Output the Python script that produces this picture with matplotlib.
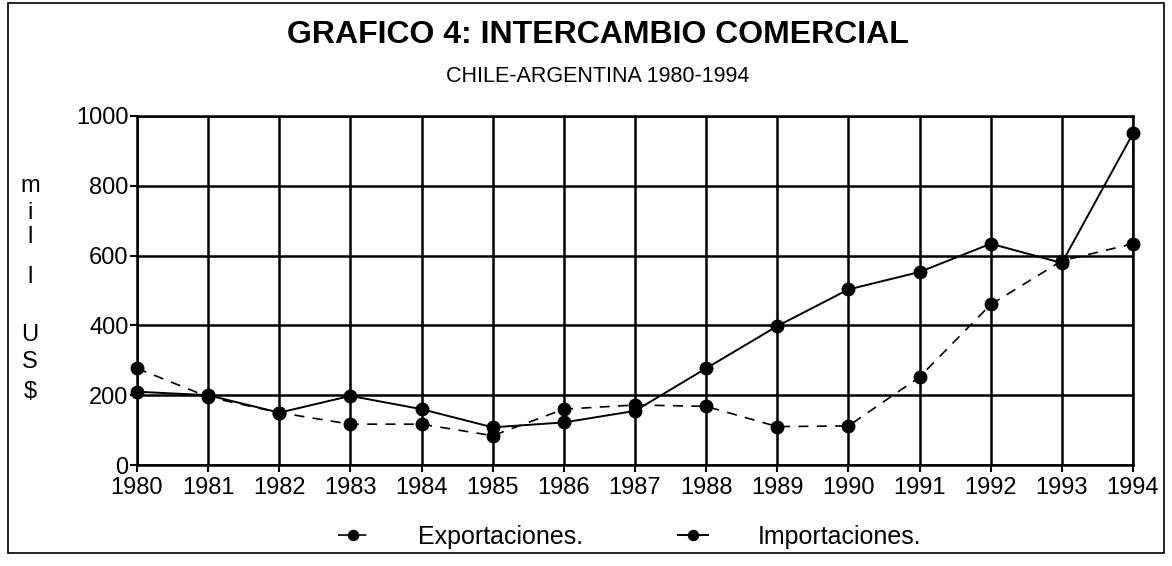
import matplotlib
matplotlib.use('Agg')
import matplotlib.pyplot as plt
from matplotlib.patches import Rectangle

years = [1980, 1981, 1982, 1983, 1984, 1985, 1986, 1987, 1988, 1989, 1990, 1991, 1992, 1993, 1994]
exportaciones = [277, 195, 150, 117, 117, 84, 160, 172, 168, 110, 112, 252, 460, 585, 634]
importaciones = [210, 200, 150, 198, 160, 108, 122, 155, 277, 398, 503, 553, 634, 579, 950]
y_ticks = [0, 200, 400, 600, 800, 1000]
ylabel_letters = ['m', 'i', 'l', 'l', 'U', 'S', '$']
ylabel_pos = [186, 213, 237, 277, 335, 362, 392]  # pixel rows of the stacked label

plt.rcParams['font.family'] = ['Liberation Sans', 'DejaVu Sans']

W, H = 1172, 566
fig = plt.figure(figsize=(W / 100, H / 100), dpi=100)
ax = fig.add_axes([137 / W, 1 - 465 / H, (1133 - 137) / W, (465 - 116) / H])

ax.plot(years, exportaciones, color='black', linestyle=(0, (6, 5)), linewidth=1.2,
        marker='o', markersize=9, label='Exportaciones.', clip_on=False, zorder=3)
ax.plot(years, importaciones, color='black', linestyle='-', linewidth=1.4,
        marker='o', markersize=9, label='Importaciones.', clip_on=False, zorder=3)

ax.set_xlim(1980, 1994)
ax.set_ylim(0, 1000)
ax.set_xticks(years)
ax.set_yticks(y_ticks)
ax.tick_params(axis='both', labelsize=17, length=5, width=1.5, color='black')
ax.tick_params(axis='x', pad=4)
ax.tick_params(axis='y', pad=1)
ax.grid(True, color='black', linewidth=1.8)
for s in ax.spines.values():
    s.set_linewidth(1.8)

# stacked vertical y-axis label
for ch, py in zip(ylabel_letters, ylabel_pos):
    fig.text(30 / W, 1 - py / H, ch, fontsize=17, ha='center', va='center')

fig.text(598 / W, 1 - 35 / H, 'GRAFICO 4: INTERCAMBIO COMERCIAL', fontsize=23,
         fontweight='bold', ha='center', va='center')
fig.text(598 / W, 1 - 76 / H, 'CHILE-ARGENTINA 1980-1994', fontsize=15.5,
         ha='center', va='center')

fig.legend(loc='center', bbox_to_anchor=(630 / W, 1 - 537 / H), ncol=2, frameon=False,
           fontsize=18, handlelength=1.2, columnspacing=3.8, handletextpad=2.0,
           markerscale=0.8)

# outer frame of the figure
fig.patches.append(Rectangle((8 / W, 1 - 553 / H), (1164 - 8) / W, (553 - 3) / H,
                             transform=fig.transFigure, fill=False,
                             edgecolor='black', linewidth=1.2))

fig.savefig('out.png', dpi=100)
